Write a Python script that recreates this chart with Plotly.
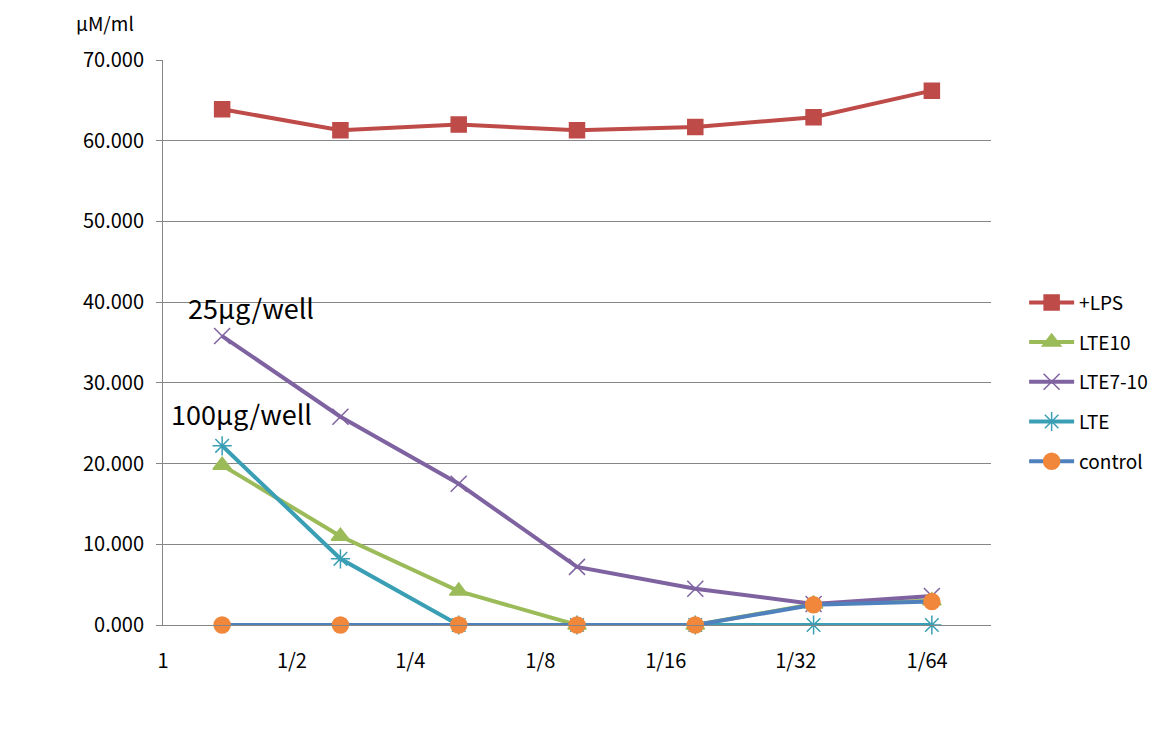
import plotly.graph_objects as go

# dilution steps (categories) and axis labels
dilutions = ["1", "1/2", "1/4", "1/8", "1/16", "1/32", "1/64"]
label_pos = [0, 1.09, 2.09, 3.19, 4.25, 5.35, 6.46]

lps = [63.9, 61.3, 62.0, 61.3, 61.7, 62.9, 66.2]
lte10 = [19.8, 11.0, 4.2, 0.0, 0.0, 2.6, 3.0]
lte7_10 = [35.8, 25.8, 17.5, 7.2, 4.5, 2.6, 3.6]
lte = [22.2, 8.2, 0.0, 0.0, 0.0, 0.0, 0.0]
control = [0.0, 0.0, 0.0, 0.0, 0.0, 2.5, 2.9]

# points sit in the middle of each category slot
xs = [i + 0.5 for i in range(len(dilutions))]

series = [
    ("+LPS", lps, "#BE4B48", "#BE4B48", "square", 15),
    ("LTE10", lte10, "#9BBB59", "#9BBB59", "triangle-up", 16),
    ("LTE7-10", lte7_10, "#7F63A1", "#7F63A1", "x-thin-open", 16),
    ("LTE", lte, "#3A9FB4", "#3A9FB4", "asterisk-open", 16),
    ("control", control, "#4F81BD", "#F0873A", "circle", 16),
]

fig = go.Figure()
for name, vals, lc, mc, sym, size in series:
    fig.add_trace(go.Scatter(
        x=xs, y=vals, name=name, mode="lines+markers",
        legendgroup=name, cliponaxis=False,
        line=dict(color=lc, width=4),
        marker=dict(symbol=sym, size=size, color=mc,
                    line=dict(color=mc, width=1.5)),
    ))

fig.update_layout(
    width=1169, height=730,
    plot_bgcolor="white", paper_bgcolor="white",
    margin=dict(l=155, r=186, t=52, b=113),
    font=dict(family="Noto Sans CJK KR, Noto Sans, sans-serif", size=18, color="black"),
    showlegend=True,
    legend=dict(x=1.04, y=0.43, xanchor="left", yanchor="middle",
                font=dict(size=19), tracegroupgap=12, traceorder="grouped",
                itemwidth=45),
)

fig.update_xaxes(
    range=[0, 7], tickvals=label_pos, ticktext=dilutions,
    showgrid=False, zeroline=False, showline=True, linecolor="#868686",
    ticks="", tickfont=dict(size=20), ticklabelstandoff=18,
)
fig.update_yaxes(
    range=[0, 70], dtick=10, tickformat=".3f",
    showgrid=True, gridcolor="#868686", gridwidth=1,
    zeroline=False, showline=True, linecolor="#868686",
    ticks="outside", ticklen=6, tickcolor="#868686",
    tickfont=dict(size=20), ticklabelstandoff=8,
)

fig.add_annotation(text="µM/ml", xref="paper", yref="paper", x=-0.07, y=1.067,
                   xanchor="center", yanchor="middle", showarrow=False,
                   font=dict(size=19))
fig.add_annotation(text="25µg/well", xref="x", yref="y", x=0.74, y=39.3,
                   xanchor="center", yanchor="middle", showarrow=False,
                   font=dict(size=27))
fig.add_annotation(text="100µg/well", xref="x", yref="y", x=0.66, y=26.2,
                   xanchor="center", yanchor="middle", showarrow=False,
                   font=dict(size=27))

fig.write_html("out.html")
